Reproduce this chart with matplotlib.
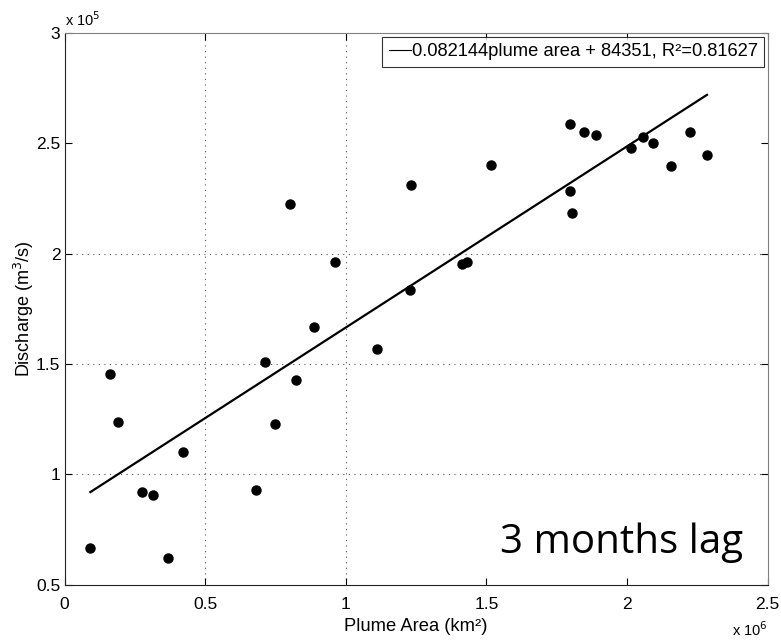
import numpy as np
import matplotlib.pyplot as plt

# valori (plume area in km2, discharge in m3/s)
plume_area = [0.092e6, 0.163e6, 0.191e6, 0.277e6, 0.314e6, 0.368e6, 0.420e6,
              0.681e6, 0.713e6, 0.750e6, 0.801e6, 0.824e6, 0.886e6, 0.961e6,
              1.112e6, 1.229e6, 1.232e6, 1.413e6, 1.431e6, 1.516e6, 1.798e6,
              1.798e6, 1.803e6, 1.847e6, 1.888e6, 2.014e6, 2.058e6, 2.092e6,
              2.155e6, 2.224e6, 2.284e6]
discharge = [0.664e5, 1.456e5, 1.237e5, 0.921e5, 0.904e5, 0.620e5, 1.099e5,
             0.928e5, 1.510e5, 1.226e5, 2.226e5, 1.428e5, 1.666e5, 1.962e5,
             1.569e5, 1.836e5, 2.312e5, 1.954e5, 1.961e5, 2.403e5, 2.586e5,
             2.282e5, 2.185e5, 2.550e5, 2.539e5, 2.479e5, 2.530e5, 2.501e5,
             2.396e5, 2.553e5, 2.448e5]

# retta di regressione riportata in legenda
pendenza = 0.082144
intercetta = 84351
r2 = 0.81627

x_ticks = [0, 0.5e6, 1e6, 1.5e6, 2e6, 2.5e6]
x_labels = ['0', '0.5', '1', '1.5', '2', '2.5']
y_ticks = [0.5e5, 1e5, 1.5e5, 2e5, 2.5e5, 3e5]
y_labels = ['0.5', '1', '1.5', '2', '2.5', '3']

plt.rcParams['font.family'] = ['Liberation Sans', 'DejaVu Sans']

fig = plt.figure(figsize=(7.81, 6.4), dpi=100)
ax = fig.add_axes([0.0826, 0.0867, 0.9004, 0.8617])

x = np.array(plume_area)
x_fit = np.array([x.min(), x.max()])
ax.plot(x_fit, pendenza * x_fit + intercetta, color='black', lw=1.6,
        label='%gplume area + %d, R²=%g' % (pendenza, intercetta, r2))
ax.plot(plume_area, discharge, 'o', color='black', ms=6.5, label='_nolegend_')

ax.set_xlim(0, 2.5e6)
ax.set_ylim(0.5e5, 3e5)
ax.set_xticks(x_ticks)
ax.set_xticklabels(x_labels)
ax.set_yticks(y_ticks)
ax.set_yticklabels(y_labels)
ax.tick_params(direction='in', length=5, width=0.8, labelsize=12.5,
               top=True, right=True)
ax.tick_params(axis='x', pad=9)
ax.tick_params(axis='y', pad=3)

ax.grid(True, linestyle=(0, (1, 4)), color='#555555', lw=0.8)
# nel riferimento alcune linee della griglia non si vedono
xg = ax.xaxis.get_gridlines()
yg = ax.yaxis.get_gridlines()
for i in [0, 3, 4, 5]:
    xg[i].set_visible(False)
for i in [0, 4, 5]:
    yg[i].set_visible(False)

for s in ['top', 'right']:
    ax.spines[s].set_color('#808080')
for s in ['left', 'bottom']:
    ax.spines[s].set_color('#222222')

ax.set_xlabel('Plume Area (km²)', fontsize=13.2, labelpad=4.5)
ax.set_ylabel('Discharge (m$^3$/s)', fontsize=13, labelpad=0)

ax.text(0.0, 1.008, 'x 10$^{5}$', transform=ax.transAxes, fontsize=10.5,
        ha='left', va='bottom')
fig.text(0.983, 0.002, 'x 10$^{6}$', fontsize=10.5, ha='right', va='bottom')

ax.text(0.965, 0.057, '3 months lag', transform=ax.transAxes, fontsize=29,
        family='Open Sans', ha='right', va='baseline')

leg = ax.legend(loc='upper right', fontsize=13.2, frameon=True, fancybox=False,
                edgecolor='black', borderaxespad=0.2, handlelength=1.2,
                handletextpad=0.05, borderpad=0.35)
leg.get_frame().set_linewidth(0.8)
leg.get_lines()[0].set_linewidth(0.8)

fig.savefig('out.png', dpi=100)
